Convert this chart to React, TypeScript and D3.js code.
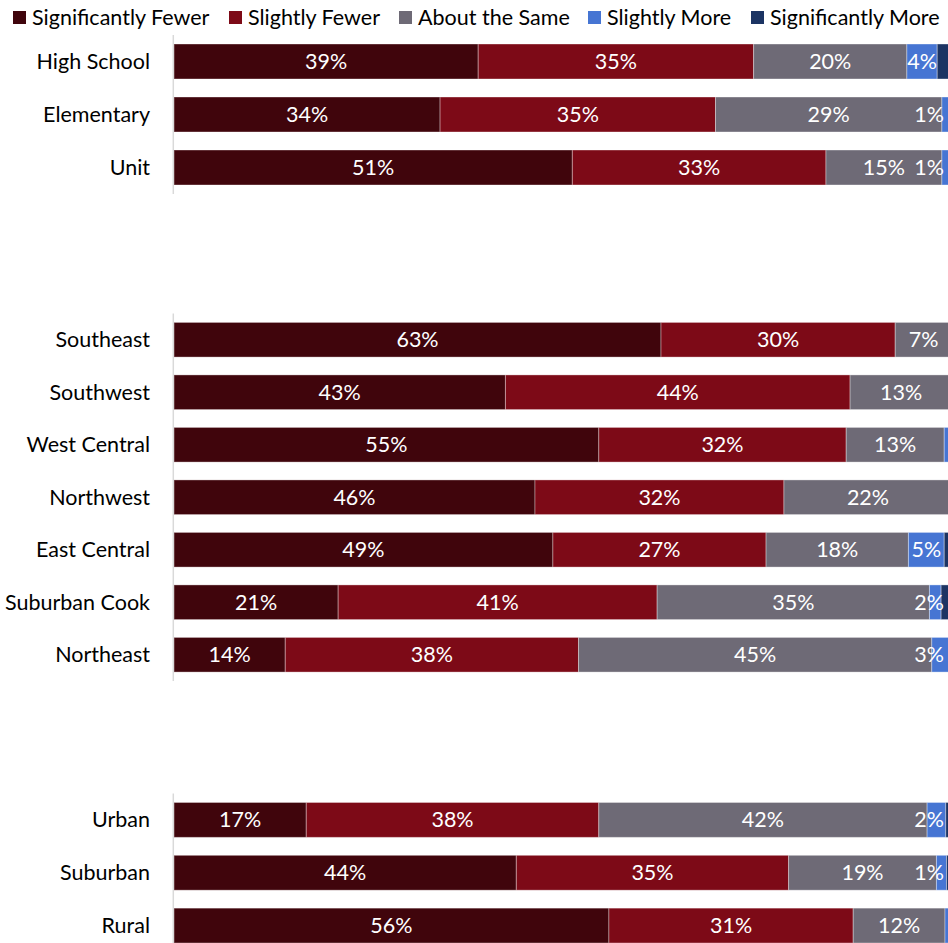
import React from "react";
import * as d3 from "d3";

const seriesNames = ["Significantly Fewer", "Slightly Fewer", "About the Same", "Slightly More", "Significantly More"];
const seriesColors = ["#40050c", "#7d0a17", "#6e6a76", "#4675d3", "#1c3463"];

const groupSchool = ["High School", "Elementary", "Unit"];
const groupRegion = ["Southeast", "Southwest", "West Central", "Northwest", "East Central", "Suburban Cook", "Northeast"];
const groupLocale = ["Urban", "Suburban", "Rural"];

// values in category order: school, region, locale
const sigFewer = [39.1, 34.2, 51.2, 62.6, 42.6, 54.6, 46.4, 48.7, 21.1, 14.3, 17.0, 44.0, 55.9];
const slightlyFewer = [35.4, 35.4, 32.6, 30.1, 44.3, 31.8, 32.0, 27.4, 41.0, 37.7, 37.6, 35.0, 31.4];
const aboutSame = [19.7, 29.1, 14.9, 7.3, 13.1, 12.6, 21.6, 18.3, 35.0, 45.4, 42.2, 19.0, 11.8];
const slightlyMore = [3.9, 1.3, 1.3, 0, 0, 0.6, 0, 4.6, 1.5, 2.6, 2.4, 1.3, 0.5];
const sigMore = [1.9, 0, 0, 0, 0, 0, 0, 1.0, 1.4, 0, 0.8, 0.7, 0];

const FONT = "Lato, 'Noto Sans', sans-serif";
const FS = 21.5;
const W = 948;
const H = 943;

let ctx: CanvasRenderingContext2D | null = null;
function textWidth(s: string): number {
  if (!ctx) {
    const c = document.createElement("canvas");
    ctx = c.getContext("2d");
  }
  if (!ctx) return s.length * 10;
  ctx.font = `${FS}px ${FONT}`;
  return ctx.measureText(s).width;
}

export default function App() {
  const allSeries = [sigFewer, slightlyFewer, aboutSame, slightlyMore, sigMore];
  const x = d3.scaleLinear().domain([0, 100]).range([174, 952]);
  const groups = [
    { cats: groupSchool, offset: 0, range: [35, 194] },
    { cats: groupRegion, offset: groupSchool.length, range: [313.5, 681] },
    { cats: groupLocale, offset: groupSchool.length + groupRegion.length, range: [793.5, 952] },
  ];
  const labelMaxRight = 944;

  const legendX = [13, 229, 399, 588, 751];

  return (
    <svg width={W} height={H} style={{ position: "absolute", left: 0, top: 0, background: "#fff" }} fontFamily={FONT}>
      {/* legend */}
      {seriesNames.map((n, i) => (
        <g key={n}>
          <rect x={legendX[i]} y={11} width={13} height={13} fill={seriesColors[i]} />
          <text x={legendX[i] + 19} y={17} dy="0.35em" fontSize={FS} fill="#000">{n}</text>
        </g>
      ))}
      {groups.map((g, gi) => {
        const y = d3.scaleBand<string>().domain(g.cats).range(g.range as [number, number]).paddingInner(0.34).paddingOuter(0.17);
        return (
          <g key={gi}>
            {g.cats.map((c, ci) => {
              const idx = g.offset + ci;
              const stack = d3.cumsum(allSeries.map((s) => s[idx]));
              const yy = y(c)!;
              const bw = y.bandwidth();
              return (
                <g key={c}>
                  <text x={150} y={yy + bw / 2} dy="0.35em" textAnchor="end" fontSize={FS} fill="#000">{c}</text>
                  {allSeries.map((s, si) => {
                    const v = s[idx];
                    if (v <= 0) return null;
                    const x0 = x(si === 0 ? 0 : stack[si - 1]);
                    const x1 = x(stack[si]);
                    return (
                      <rect key={si} x={x0} y={yy} width={x1 - x0} height={bw} fill={seriesColors[si]} stroke="#ffffff" strokeOpacity={0.35} strokeWidth={1} />
                    );
                  })}
                  {allSeries.map((s, si) => {
                    const v = s[idx];
                    if (si >= 4 || v < 1) return null;
                    const label = `${Math.round(v)}%`;
                    const x0 = x(si === 0 ? 0 : stack[si - 1]);
                    const x1 = x(stack[si]);
                    const tw = textWidth(label);
                    const cx = Math.min((x0 + x1) / 2, labelMaxRight - tw / 2);
                    return (
                      <text key={"l" + si} x={cx} y={yy + bw / 2} dy="0.35em" textAnchor="middle" fontSize={FS} fill="#fff">{label}</text>
                    );
                  })}
                </g>
              );
            })}
            <line x1={173.3} x2={173.3} y1={g.range[0]} y2={Math.min(g.range[1], H)} stroke="#d9d9d9" strokeWidth={1.5} />
          </g>
        );
      })}
    </svg>
  );
}
